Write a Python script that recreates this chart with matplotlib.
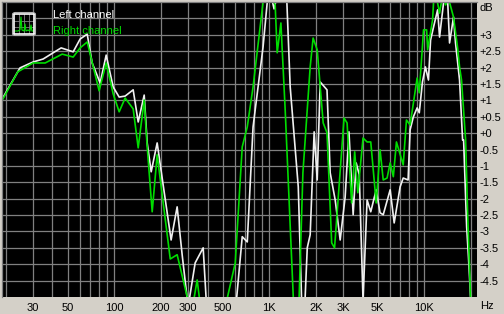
import numpy as np
import matplotlib
matplotlib.use('Agg')
import matplotlib.pyplot as plt
from matplotlib.patches import FancyBboxPatch

plt.rcParams['font.family'] = ['Liberation Sans', 'DejaVu Sans']

# left channel (white)
left_hz = [19, 24.7, 30, 34.8, 40.4, 45.5, 54.4, 60.3, 67, 72.1, 81.2, 88.8, 98.5,
           107.7, 117.7, 132.6, 142.9, 156.2, 163.3, 173.3, 189.4, 207, 233, 254.8,
           274.5, 300, 333, 375, 397, 500, 612, 670, 722, 787, 913, 985, 1045, 1075,
           1140, 1268, 1300, 1366, 1540, 1630, 1706, 1760, 1838, 1950, 2040, 2133,
           2360, 2474, 2665, 2870, 3090, 3270, 3480, 3640, 3810, 4030, 4280, 4520,
           4900, 5190, 5440, 6030, 6400, 6990, 7320, 7870, 8110, 8500, 9000, 9290,
           9740, 10180, 10650, 10990, 11490, 12200, 12560, 13320, 14140, 14570,
           15450, 15920, 16900, 17680, 17950, 18780, 19340, 19900, 20500]
left_db = [1.05, 1.99, 2.17, 2.26, 2.45, 2.60, 2.48, 2.87, 3.02, 2.14, 1.53, 2.38, 1.41,
           1.10, 1.13, 1.32, 0.34, 1.16, -0.30, -1.18, -0.30, -1.58, -3.26, -2.25,
           -3.71, -5.3, -3.96, -3.50, -5.5, -6.5, -5.2, -3.16, -3.32, 0.19, 2.63, 4.3,
           4.05, 3.79, 4.3, 4.2, 4.0, 1.41, -1.64, -5.6, -5.0, -3.50, -3.10, 0.04,
           -1.43, 1.56, 1.32, -1.21, -2.04, -3.26, -1.95, 0.04, -2.49, -0.91, -1.27,
           -5.1, -2.04, -2.40, -1.73, -2.43, -2.49, -1.73, -2.74, -1.64, -1.37, -1.43,
           0.10, 0.49, 0.77, 0.62, 1.56, 2.02, 1.62, 2.84, 3.24, 3.76, 2.93, 3.97,
           4.1, 2.75, 3.54, 2.75, 1.62, -0.21, -0.21, -2.86, -3.87, -5.0, -5.6]

# right channel (green)
right_hz = [19, 23.9, 30, 35.9, 46.2, 54.4, 60.3, 67, 80, 88.8, 98.5, 107.7, 117.7,
            132.6, 142.9, 156.2, 163.3, 175.9, 189.4, 230, 254.8, 296, 318, 343, 354,
            375, 448, 521, 604, 670, 722, 787, 913, 985, 1093, 1126, 1190, 1268, 1430,
            1471, 1520, 1560, 1650, 1838, 1920, 2040, 2230, 2360, 2530, 2640, 3040,
            3180, 3400, 3560, 3730, 4030, 4280, 4520, 4900, 5190, 5440, 5760, 6030,
            6320, 6620, 7320, 7680, 8110, 9000, 9290, 9900, 10360, 10520, 11320,
            11490, 11900, 12200, 12560, 13120, 13740, 14360, 15450, 16390, 16900,
            17400, 18490, 19050, 19900, 20500]
right_db = [1.01, 1.87, 2.14, 2.14, 2.41, 2.32, 2.60, 2.78, 1.29, 2.14, 1.20, 0.65, 1.07,
            0.74, -0.45, 1.01, -0.42, -2.40, -0.66, -3.84, -3.71, -5.0, -5.4, -4.48,
            -5.0, -5.6, -6.5, -5.3, -3.96, -0.42, 0.19, 1.41, 4.0, 4.4, 3.91, 2.45,
            3.36, 0.71, -5.0, -5.5, -5.5, -5.0, -1.21, 2.02, 2.90, 2.54, 0.31, 0.01,
            -3.35, -3.50, 0.46, 0.31, -2.13, -0.57, -1.82, -0.15, -0.27, -0.27, -2.13,
            -0.51, -1.43, -1.37, -0.91, -1.33, -0.27, -0.97, 0.40, 0.25, 1.68, 1.23,
            3.15, 3.15, 2.54, 3.45, 4.0, 4.3, 3.97, 3.66, 4.2, 3.91, 4.1, 3.54, 2.63,
            2.02, 1.62, -0.21, -2.43, -5.0, -5.6]

grid_hz = [20, 30, 40, 50, 60, 70, 80, 90, 100, 200, 300, 400, 500, 600, 700, 800, 900,
           1000, 2000, 3000, 4000, 5000, 6000, 7000, 8000, 9000, 10000, 20000]
label_hz = {30: '30', 50: '50', 100: '100', 200: '200', 300: '300', 500: '500',
            1000: '1K', 2000: '2K', 3000: '3K', 5000: '5K', 10000: '10K'}
db_ticks = np.arange(-4.5, 3.51, 0.5)

W, H = 504, 314
fig = plt.figure(figsize=(W / 100, H / 100), dpi=100, facecolor='#d4d0c8')
ax = fig.add_axes([2 / W, 17 / H, 475 / W, 295 / H], facecolor='black')

ax.plot(left_hz, left_db, color='#f0f0f0', lw=1.2)
ax.plot(right_hz, right_db, color='#00dd00', lw=1.2)

ax.set_xscale('log')
ax.set_xlim(18.9, 21900)
ax.set_ylim(-5, 4)

ax.set_xticks(grid_hz)
ax.set_xticks([], minor=True)
ax.set_xticklabels([label_hz.get(f, '') for f in grid_hz])
ax.set_yticks(db_ticks)
ax.set_yticklabels(['' if v > 3.01 else ('+%g' % v if v >= 0 else '%g' % v) for v in db_ticks])
ax.yaxis.tick_right()
ax.tick_params(axis='both', length=0, labelsize=8, colors='black')
ax.tick_params(axis='x', pad=4)
ax.tick_params(axis='y', pad=2)
for lab in ax.get_yticklabels():
    lab.set_horizontalalignment('left')
ax.grid(True, color='#808080', lw=0.9)
ax.set_axisbelow(True)

for s in ['right', 'bottom']:
    ax.spines[s].set_visible(False)
for s in ['left', 'top']:
    ax.spines[s].set_color('#808080')
    ax.spines[s].set_linewidth(0.9)

fig.text(480 / W, 1 - 8 / H, 'dB', fontsize=8, va='center', ha='left')
fig.text(480 / W, 1 - 306 / H, 'Hz', fontsize=8, va='center', ha='left')

# legend
fig.text(53 / W, 1 - 15 / H, 'Left channel', fontsize=8, color='white', va='center')
fig.text(53 / W, 1 - 31 / H, 'Right channel', fontsize=8, color='#00dd00', va='center')
icon = fig.add_axes([14 / W, 1 - 34 / H, 20 / W, 20 / H], facecolor='black')
icon.set_xticks([0.25, 0.5, 0.75])
icon.set_yticks([0.33, 0.66])
icon.set_xticklabels([])
icon.set_yticklabels([])
icon.tick_params(length=0)
icon.grid(True, color='#808080', lw=0.6)
icon_x = [0, 0.2, 0.3, 0.35, 0.4, 0.5, 0.55, 0.6, 0.7, 0.8, 0.85, 0.9, 1]
icon_y = [0.15, 0.15, 0.2, 0.85, 0.2, 0.15, 0.5, 0.15, 0.2, 0.15, 0.45, 0.15, 0.15]
icon.plot(icon_x, icon_y, color='#00dd00', lw=0.8)
icon.set_xlim(0, 1)
icon.set_ylim(0, 1)
for s in icon.spines.values():
    s.set_color('white')
    s.set_linewidth(1.2)
fig.patches.append(FancyBboxPatch((12.5 / W, 1 - 35.5 / H), 23 / W, 23 / H,
                                  boxstyle='round,pad=0,rounding_size=0.006',
                                  transform=fig.transFigure, fill=False,
                                  ec='#b0b0b0', lw=0.8))

fig.savefig('out.png', dpi=100, facecolor=fig.get_facecolor())
